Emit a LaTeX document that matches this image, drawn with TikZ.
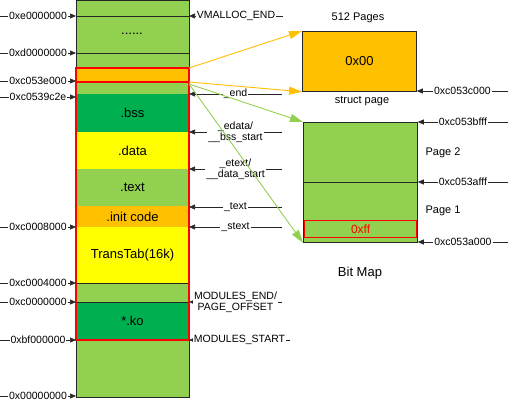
\documentclass[tikz,border=0pt]{standalone}
\usepackage{fontspec}
\setmainfont{Liberation Sans}
\usetikzlibrary{arrows.meta}

\definecolor{lgreen}{RGB}{146,208,80}
\definecolor{dgreen}{RGB}{0,176,80}
\definecolor{orng}{RGB}{255,192,0}
\definecolor{yel}{RGB}{255,255,0}
\definecolor{redl}{RGB}{255,0,0}

\tikzset{
  seg/.style={anchor=north west, minimum width=113pt, inner sep=0pt, outer sep=0pt, font=\fontsize{13}{15}\selectfont},
  addr/.style={black!85, line width=0.6pt, -{Triangle[length=6pt,width=5pt]}},
  lbl/.style={fill=white, inner sep=1pt, text=black, align=center, font=\fontsize{10.5}{11.5}\selectfont},
  link/.style={line width=0.9pt, -{Triangle[length=13pt,width=8pt]}},
  capt/.style={font=\fontsize{11}{13}\selectfont}
}

\begin{document}
\begin{tikzpicture}[x=1pt,y=-1pt]
            \useasboundingbox (0,0) rectangle (510,403);

            % memory column
            \node[seg, fill=lgreen, minimum height=68pt] (vmalloc) at (76,0) {};
            \node[seg, fill=orng, minimum height=14pt] (pages) at (76,68) {};
            \node[seg, fill=lgreen, minimum height=12pt] (gap) at (76,82) {};
            \node[seg, fill=dgreen, minimum height=38pt] (bss) at (76,94) {.bss};
            \node[seg, fill=yel, minimum height=37pt] (data) at (76,132) {.data};
            \node[seg, fill=lgreen, minimum height=37pt] (ktext) at (76,169) {.text};
            \node[seg, fill=orng, minimum height=21pt] (init) at (76,206) {.init code};
            \node[seg, fill=yel, minimum height=56pt] (trans) at (76,227) {TransTab(16k)};
            \node[seg, fill=lgreen, minimum height=19pt] (low) at (76,283) {};
            \node[seg, fill=dgreen, minimum height=38pt] (ko) at (76,302) {*.ko};
            \node[seg, fill=lgreen, minimum height=57pt] (user) at (76,340) {};
            \node[seg, anchor=center] (dots) at (132,34) {......};

            \draw[black!85, line width=0.8pt] (vmalloc.north west) rectangle (user.south east);
            \draw[black!85, line width=0.8pt] (vmalloc.west |- 0,16) -- (vmalloc.east |- 0,16);
            \draw[black!85, line width=0.8pt] (vmalloc.west |- 0,53) -- (vmalloc.east |- 0,53);
            \draw[black!85, line width=0.8pt] (low.north west) -- (low.north east);
            \draw[black!85, line width=0.8pt] (ko.north west) -- (ko.north east);
            \draw[redl, line width=1.2pt] (pages.north west) rectangle (pages.south east);
            \draw[redl, line width=1.2pt] (gap.north west) rectangle (ko.south east);

            % addresses on the left
            \foreach \y/\adr in {16/0xe0000000, 53/0xd0000000, 81/0xc053e000, 97/0xc0539c2e,
                                 227/0xc0008000, 283/0xc0004000, 302/0xc0000000, 340/0xbf000000, 396/0x00000000}
                \draw[addr] (0,\y) -- (vmalloc.west |- 0,\y) node[lbl, midway] {\adr};

            % symbols on the right
            \foreach \y/\xe/\sym in {16/283/VMALLOC\_END, 94/282/\_end, 132/282/{\_edata/\\\_\_bss\_start},
                                     169/282/{\_etext/\\\_\_data\_start}, 207/282/\_text, 227/282/\_stext,
                                     302/282/{MODULES\_END/\\PAGE\_OFFSET}, 340/290/MODULES\_START}
                \draw[addr] (\xe,\y) -- (vmalloc.east |- 0,\y) node[lbl, midway] {\sym};

            % struct page
            \node[capt] (npages) at (358,18) {512 Pages};
            \node[draw=black!85, line width=0.8pt, fill=orng, anchor=north west, minimum width=114pt, minimum height=60pt,
                  font=\fontsize{13}{15}\selectfont] (pagebox) at (302,31) {0x00};
            \node[capt] (spage) at (362,101) {struct page};
            \draw[addr] (508,91) -- (pagebox.east |- 0,91) node[lbl, midway] {0xc053c000};

            % bit map
            \node[draw=black!85, line width=0.8pt, fill=lgreen, anchor=north west, minimum width=114pt, minimum height=120pt] (bitmap) at (303,122) {};
            \draw[black!85, line width=0.8pt] (bitmap.west) -- (bitmap.east);
            \node[draw=redl, line width=1.2pt, text=redl, anchor=north west, minimum width=112pt, minimum height=17pt, inner sep=0pt,
                  font=\fontsize{12}{14}\selectfont] (ffbox) at (304,220) {0xff};
            \node[capt] (page2) at (443,153) {Page 2};
            \node[capt] (page1) at (443,211) {Page 1};
            \node[font=\fontsize{13}{15}\selectfont] (bmap) at (360,273) {Bit Map};
            \foreach \y/\adr in {122/0xc053bfff, 182/0xc053afff, 242/0xc053a000}
                \draw[addr] (508,\y) -- (bitmap.east |- 0,\y) node[lbl, midway] {\adr};

            % links
            \draw[link, orng] (pages.north east) -- (pagebox.north west);
            \draw[link, orng] (pages.south east) -- (pagebox.south west);
            \draw[link, lgreen] ([yshift=-2pt]gap.north east) -- (bitmap.north west);
            \draw[link, lgreen] ([yshift=-2pt]gap.north east) -- (bitmap.south west);
        \end{tikzpicture}
\end{document}
